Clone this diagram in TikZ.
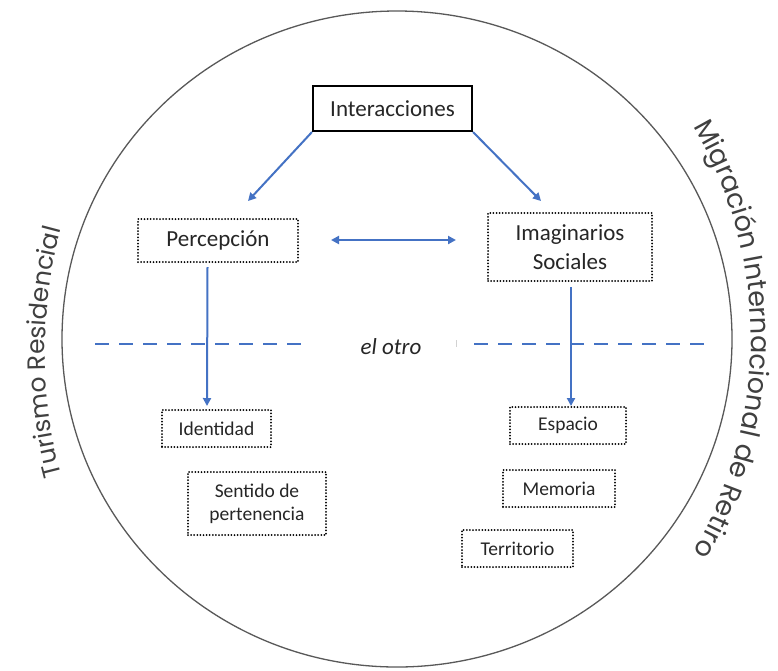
\documentclass[tikz,border=0pt]{standalone}
\usepackage{fontspec}
\setmainfont{Carlito}
\newfontfamily\outerfnt{Poppins}
\usetikzlibrary{arrows.meta,decorations.text}
\definecolor{blu}{HTML}{4472C4}
\definecolor{txt}{HTML}{262626}
\definecolor{ring}{HTML}{595959}
\definecolor{outc}{HTML}{404040}
\begin{document}
\begin{tikzpicture}[x=1pt,y=-1pt,
  box/.style={draw=black, line width=2pt, line cap=round, dash pattern=on 0pt off 3.1pt, inner sep=0pt, align=center, text=txt},
  mainbox/.style={draw=black, line width=2.2pt, inner sep=0pt, text=txt},
  big/.style={font=\fontsize{23}{29}\selectfont},
  small/.style={font=\fontsize{19.5}{23}\selectfont},
  arr/.style={draw=blu, line width=2pt, -{Triangle[width=8pt,length=8pt]}},
  dbl/.style={draw=blu, line width=2pt, {Triangle[width=8pt,length=8pt]}-{Triangle[width=8pt,length=8pt]}},
  sep/.style={draw=blu, line width=2.8pt, dash pattern=on 14pt off 10pt},
]
\useasboundingbox (0,0) rectangle (778,670);
\fill[white] (0,0) rectangle (778,670);

% ring
\draw[ring, line width=1.3pt] (397,339) ellipse [x radius=335, y radius=328];

% curved outer labels
\path[decorate, decoration={text along path, text align=center, text color=outc,
  text={|\outerfnt\fontsize{27}{30}\selectfont|Migración Internacional de Retiro}}]
  (331,339) ++(-45:420) arc[start angle=-45, end angle=45, radius=420];
\path[decorate, decoration={text along path, text align=center, text color=outc,
  text={|\outerfnt\fontsize{25}{30}\selectfont|Turismo Residencial}}]
  (518,352) ++(140:473) arc[start angle=140, end angle=220, radius=473];

% nodes
\node[mainbox, big, minimum width=159pt, minimum height=45pt] (inter) at (392.5,108.5) {Interacciones};
\node[box, big, minimum width=160pt, minimum height=43pt] (perc) at (218,240.5) {Percepción};
\node[box, big, minimum width=164pt, minimum height=68pt] (imag) at (570,247) {Imaginarios\\Sociales};
\node[box, small, minimum width=109pt, minimum height=37pt] (ident) at (216.5,428.5) {Identidad};
\node[box, small, minimum width=138pt, minimum height=63pt] (sent) at (257,503.5) {Sentido de\\pertenencia};
\node[box, small, minimum width=116pt, minimum height=37pt] (esp) at (568,425.5) {Espacio};
\node[box, small, minimum width=112pt, minimum height=37pt] (mem) at (559,488.5) {Memoria};
\node[box, small, minimum width=111pt, minimum height=37pt] (terr) at (517.5,548.5) {Territorio};
\node[text=txt, font=\fontsize{23}{26}\selectfont\itshape] (otro) at (391,347) {el otro};

% arrow end points
\coordinate (tl) at (248,201);
\coordinate (tr) at (541,201);
\coordinate (d1) at (331,240);
\coordinate (d2) at (456,240);
\coordinate (vl1) at (207.5,267);
\coordinate (vl2) at (207,406);
\coordinate (vr1) at (571,287);
\coordinate (vr2) at (571,406);
\coordinate (s1) at (95,344);
\coordinate (s2) at (308,344);
\coordinate (s3) at (474,344);
\coordinate (s4) at (711,344);
\coordinate (k1) at (456,340);
\coordinate (k2) at (456,347);

% separator
\draw[sep] (s1) -- (s2);
\draw[sep] (s3) -- (s4);
\draw[gray!35, line width=0.8pt] (k1) -- (k2);

% arrows
\draw[arr] (inter.south west) -- (tl);
\draw[arr] (inter.south east) -- (tr);
\draw[dbl] (d1) -- (d2);
\draw[arr] (vl1) -- (vl2);
\draw[arr] (vr1) -- (vr2);
\end{tikzpicture}
\end{document}
